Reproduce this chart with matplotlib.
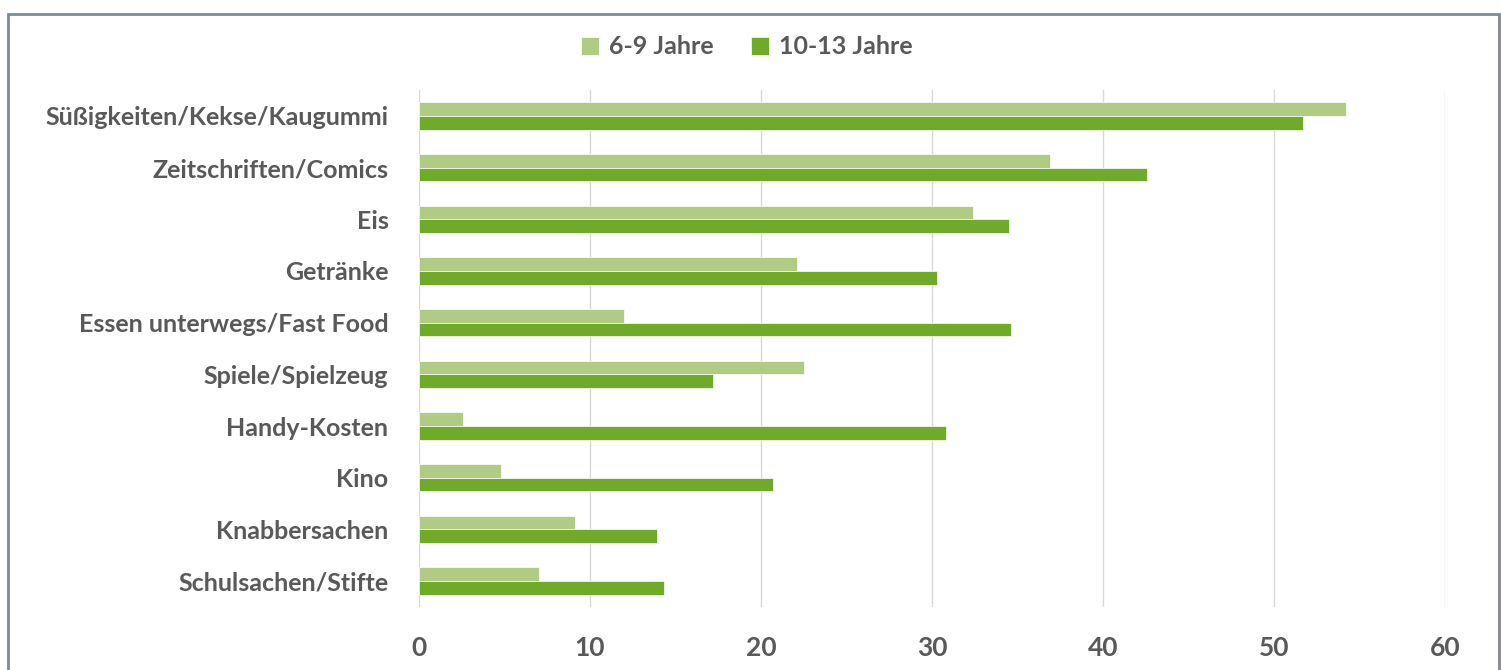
import numpy as np
import matplotlib
matplotlib.use('Agg')
import matplotlib.pyplot as plt
from matplotlib.patches import Rectangle

categories = ['Süßigkeiten/Kekse/Kaugummi', 'Zeitschriften/Comics', 'Eis', 'Getränke',
              'Essen unterwegs/Fast Food', 'Spiele/Spielzeug', 'Handy-Kosten', 'Kino',
              'Knabbersachen', 'Schulsachen/Stifte']
jahre_6_9 = [54.2, 36.9, 32.4, 22.1, 12.0, 22.5, 2.6, 4.8, 9.1, 7.0]
jahre_10_13 = [51.7, 42.6, 34.5, 30.3, 34.6, 17.2, 30.8, 20.7, 13.9, 14.3]
x_ticks = [0, 10, 20, 30, 40, 50, 60]

light = '#b0cb84'
dark = '#6fab28'
text_col = '#595959'

plt.rcParams['font.family'] = ['Lato', 'DejaVu Sans']
plt.rcParams['font.weight'] = 'bold'

fig = plt.figure(figsize=(15.01, 6.70), dpi=100)
ax = fig.add_axes([419 / 1501, 63 / 670, 1026 / 1501, 517 / 670])

y = np.arange(len(categories))
h = 0.265
ax.barh(y - h / 2, jahre_6_9, height=h, color=light, label='6-9 Jahre',
        edgecolor='white', linewidth=0.5)
ax.barh(y + h / 2, jahre_10_13, height=h, color=dark, label='10-13 Jahre',
        edgecolor='white', linewidth=0.5)

ax.set_ylim(len(categories) - 0.5, -0.5)
ax.set_xlim(0, 60)
ax.set_yticks(y)
ax.set_yticklabels(categories, fontsize=18, color=text_col, fontweight='bold')
ax.set_xticks(x_ticks)
ax.set_xticklabels([str(v) for v in x_ticks], fontsize=19, color=text_col, fontweight='bold')
ax.tick_params(axis='y', length=0, pad=22)
ax.tick_params(axis='x', length=0, pad=21)
ax.grid(axis='x', color='#d9d9d9', linewidth=1)
ax.set_axisbelow(True)
for s in ax.spines.values():
    s.set_visible(False)

fig.legend(loc='center', bbox_to_anchor=(747 / 1501, 1 - 47 / 670), ncol=2, frameon=False,
           labelcolor=text_col, handlelength=0.72, handleheight=0.72,
           handletextpad=0.4, columnspacing=1.5, prop={'weight': 'bold', 'size': 18})

# outer frame
fig.patches.append(Rectangle((8 / 1501, -0.01), 1491 / 1501, 1 - 14 / 670 + 0.01,
                             transform=fig.transFigure, fill=False,
                             edgecolor='#7b8c97', linewidth=2))

plt.savefig('out.png', dpi=100)
plt.close('all')
